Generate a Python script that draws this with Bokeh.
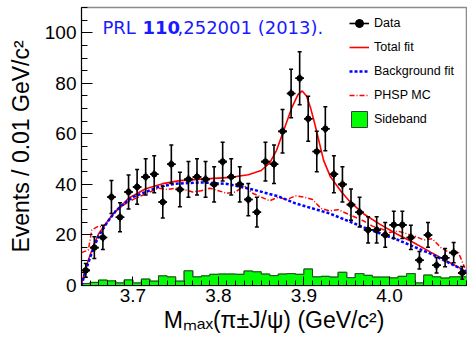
import numpy as np
from bokeh.plotting import figure
from bokeh.models import (Range1d, SingleIntervalTicker, PrintfTickFormatter,
                          Legend, LegendItem, Label)
from bokeh.embed import file_html
from bokeh.resources import INLINE

# ---------------- data ----------------
x_min, x_max, bin_width = 3.64, 4.09, 0.01
y_min, y_max = 0, 110

counts = [6, 15, 19, 35, 27, 37, 39, 43, 44, 33, 48, 38, 42, 43, 42, 40, 49, 43,
          40, 34, 29, 49, 48, 61, 76, 82, 66, 53, 62, 44, 40, 32, 29, 22, 22, 20,
          24, 24, 19, 10, 20, 8, 11, 13, 5]
count_errors = [2.7, 4.3, 4.8, 6.5, 5.7, 6.7, 6.9, 7.2, 7.3, 6.3, 7.6, 6.8, 7.1, 7.2,
                7.1, 7.0, 7.7, 7.2, 7.0, 6.4, 5.9, 7.7, 7.6, 8.6, 9.6, 10.5, 8.9, 8.0,
                8.7, 7.3, 7.0, 6.2, 5.9, 5.2, 5.2, 4.9, 5.4, 5.4, 4.8, 3.5, 4.9, 3.1,
                3.6, 4.0, 2.5]
sideband_counts = [0.8, 1.2, 2.1, 1.8, 1.0, 2.2, 1.0, 2.5, 1.7, 3.8, 3.4, 1.7, 5.8,
                   3.4, 3.8, 4.4, 4.5, 4.5, 4.4, 5.7, 5.4, 4.5, 3.9, 4.5, 4.7, 4.4,
                   6.5, 3.4, 3.6, 3.3, 5.2, 3.1, 4.7, 4.0, 3.3, 3.3, 3.0, 3.6, 4.7,
                   1.0, 4.1, 3.4, 2.9, 3.4, 3.4]

total_fit_x = [3.640, 3.645, 3.650, 3.655, 3.660, 3.675, 3.695, 3.715, 3.735, 3.755,
               3.785, 3.815, 3.835, 3.850, 3.860, 3.868, 3.876, 3.886, 3.893, 3.898,
               3.903, 3.908, 3.913, 3.918, 3.923, 3.931, 3.943, 3.954, 3.970, 3.989,
               4.009, 4.028, 4.048, 4.067, 4.090]
total_fit_y = [0.5, 7.0, 12.0, 16.5, 20.5, 27.5, 34.5, 38.3, 40.3, 41.5,
               42.2, 42.8, 43.8, 45.5, 48.5, 53.5, 61.0, 70.5, 75.5, 77.0,
               75.0, 70.0, 63.5, 56.5, 49.5, 43.0, 37.4, 33.0, 28.3, 24.2,
               20.3, 17.0, 13.2, 9.7, 5.5]

bkg_fit_x = [3.640, 3.645, 3.650, 3.655, 3.660, 3.670, 3.680, 3.690, 3.700, 3.715,
             3.730, 3.750, 3.780, 3.810, 3.840, 3.870, 3.890, 3.930, 3.970, 4.010,
             4.050, 4.090]
bkg_fit_y = [0.0, 6.0, 11.0, 15.5, 19.5, 25.0, 29.5, 32.5, 35.0, 37.0,
             39.0, 40.3, 40.8, 40.2, 38.0, 35.3, 32.5, 28.5, 23.0, 18.0,
             12.3, 5.5]

phsp_x = [3.640, 3.648, 3.652, 3.660, 3.665, 3.672, 3.680, 3.690, 3.700, 3.710,
          3.720, 3.730, 3.740, 3.750, 3.760, 3.770, 3.780, 3.790, 3.800, 3.810,
          3.820, 3.830, 3.840, 3.850, 3.860, 3.870, 3.880, 3.890, 3.900, 3.910,
          3.920, 3.930, 3.940, 3.950, 3.960, 3.970, 3.980, 3.990, 4.000, 4.010,
          4.020, 4.030, 4.040, 4.050, 4.060, 4.070, 4.080, 4.088]
phsp_y = [13.0, 14.0, 22.0, 23.5, 23.0, 26.0, 29.5, 32.0, 34.0, 35.5,
          37.0, 38.5, 38.0, 38.5, 38.0, 37.0, 37.5, 38.5, 37.5, 36.5,
          37.0, 39.5, 36.5, 35.0, 33.5, 35.0, 34.0, 35.5, 35.0, 34.0,
          30.5, 29.5, 30.0, 28.5, 27.0, 25.5, 23.5, 22.5, 21.0, 21.5,
          20.5, 19.5, 18.0, 18.5, 15.0, 13.0, 13.5, 7.0]

legend_labels = ["Data", "Total fit", "Background fit", "PHSP MC", "Sideband"]
x_title = "M\u2098\u2090\u2093(\u03c0\u00b1J/\u03c8) (GeV/c\u00b2)"
y_title = "Events / 0.01 GeV/c\u00b2"
ref_parts = ["PRL ", "110", ",252001 (2013)."]

# ---------------- derived binning ----------------
n_bins = len(counts)
edges = np.round(x_min + bin_width * np.arange(n_bins + 1), 4)
centers = (edges[:-1] + edges[1:]) / 2
cnt = np.array(counts, dtype=float)
err = np.array(count_errors, dtype=float)
sbv = np.array(sideband_counts, dtype=float)

FONT = "Liberation Sans"
GREEN = "#00ff00"
OUTLINE = "#3c3c3c"

p = figure(width=467, height=338, output_backend="svg", toolbar_location=None,
           x_range=Range1d(x_min, x_max), y_range=Range1d(y_min, y_max),
           min_border_left=81, min_border_right=1, min_border_top=7,
           min_border_bottom=53)
p.background_fill_color = "white"
p.border_fill_color = "white"
p.outline_line_color = "#8a8a8a"
p.outline_line_width = 1.5
p.grid.visible = False

# sideband histogram: outlined quads (legend), green cover, step outline
sb_leg = p.quad(left=edges[:-1], right=edges[1:], bottom=0, top=sbv,
                fill_color=GREEN, line_color=OUTLINE, line_width=1)
p.quad(left=edges[:-1], right=edges[1:], bottom=0, top=sbv,
       fill_color=GREEN, line_color=GREEN, line_width=1.2)
p.step(x=edges, y=np.append(sbv, sbv[-1]), mode="after",
       line_color=OUTLINE, line_width=1)

# curves
ph = p.line(phsp_x, phsp_y, line_color="#ff0000", line_width=1.5,
            line_dash="5 2 1 2")
tot = p.line(total_fit_x, total_fit_y, line_color="#ff0000", line_width=1.6)
bk = p.line(bkg_fit_x, bkg_fit_y, line_color="#0000ff", line_width=2.5,
            line_dash="3 2")

# data with error bars
hbar = p.segment(x0=centers - bin_width / 2, y0=cnt, x1=centers + bin_width / 2,
                 y1=cnt, line_color="black", line_width=1.6)
p.segment(x0=centers, y0=cnt - err, x1=centers, y1=cnt + err,
          line_color="black", line_width=1.6)
p.scatter(np.concatenate([centers, centers]), np.concatenate([cnt - err, cnt + err]),
          marker="dash", size=4, line_color="black", line_width=1.5)
cross_leg = p.scatter(centers, cnt, marker="cross", size=8.5, line_color="black",
                      line_width=1.6)
dots = p.scatter(centers, cnt, size=5.5, color="black")

# axes
xax = p.xaxis[0]
yax = p.yaxis[0]
xax.ticker = SingleIntervalTicker(interval=0.1, num_minor_ticks=10)
xax.formatter = PrintfTickFormatter(format="%.1f")
yax.ticker = SingleIntervalTicker(interval=20, num_minor_ticks=4)
for ax in (xax, yax):
    ax.major_tick_out = 0
    ax.minor_tick_out = 0
    ax.axis_line_color = "black"
    ax.major_tick_line_color = "black"
    ax.minor_tick_line_color = "black"
    ax.major_label_text_font = FONT
    ax.major_label_text_font_size = "19px"
    ax.major_label_text_color = "black"
    ax.axis_label_text_font = FONT
    ax.axis_label_text_font_size = "23px"
    ax.axis_label_text_font_style = "normal"
    ax.axis_label_text_color = "black"
xax.major_tick_in = 9
xax.minor_tick_in = 5
yax.major_tick_in = 11
yax.minor_tick_in = 6
xax.major_label_standoff = 3
xax.axis_label_standoff = 2
yax.major_label_standoff = 5
yax.axis_label_standoff = 8
xax.axis_label = x_title
yax.axis_label = y_title

# legend
legend = Legend(items=[
    LegendItem(label=legend_labels[0], renderers=[hbar, cross_leg, dots]),
    LegendItem(label=legend_labels[1], renderers=[tot]),
    LegendItem(label=legend_labels[2], renderers=[bk]),
    LegendItem(label=legend_labels[3], renderers=[ph]),
    LegendItem(label=legend_labels[4], renderers=[sb_leg]),
], location=(268, 156))
legend.glyph_width = 20
legend.glyph_height = 20
legend.label_height = 20
legend.spacing = 4
legend.padding = 0
legend.margin = 0
legend.label_standoff = 5
legend.border_line_alpha = 0
legend.background_fill_alpha = 0
legend.label_text_font = FONT
legend.label_text_font_size = "12.5px"
legend.label_text_color = "black"
p.add_layout(legend)

# reference text
ref_x = [21, 61, 96]
styles = ["normal", "bold", "normal"]
for txt, xx, st in zip(ref_parts, ref_x, styles):
    p.add_layout(Label(x=xx, y=258, x_units="screen", y_units="screen", text=txt,
                       text_font="DejaVu Sans", text_font_size="18px",
                       text_font_style=st, text_color="#1a1aff",
                       text_baseline="alphabetic"))

open("out.html", "w").write(file_html(p, INLINE))
